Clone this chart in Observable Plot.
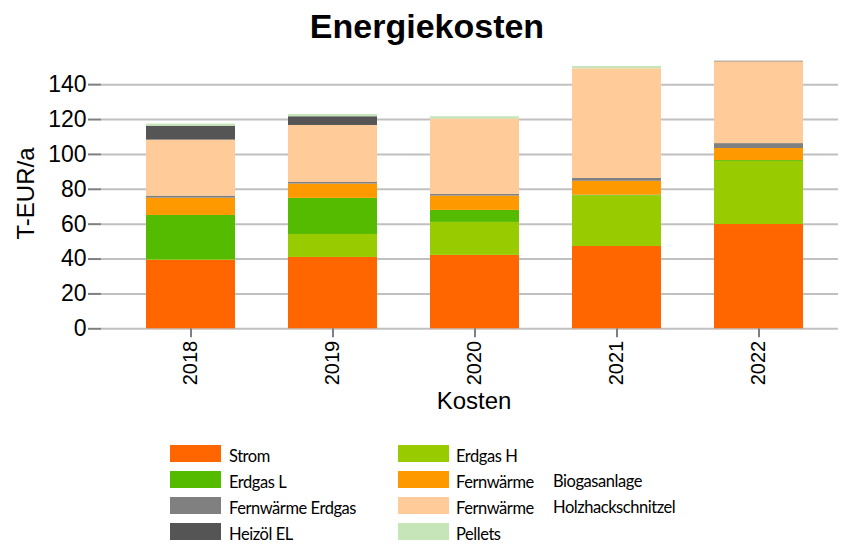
<!DOCTYPE html>
<html>
<head>
<meta charset="utf-8">
<script src="https://cdn.jsdelivr.net/npm/d3@7"></script>
<script src="https://cdn.jsdelivr.net/npm/@observablehq/plot@0.6"></script>
<style>
  html, body { margin: 0; padding: 0; background: #fff; }
  #wrap { position: relative; width: 842px; height: 545px; overflow: hidden; font-family: "Liberation Sans", Arial, sans-serif; }
  #title { position: absolute; left: 0; width: 854px; top: 7px; text-align: center; font-weight: bold; font-size: 34px; line-height: normal; color: #000; }
  #chart { position: absolute; left: 0; top: 50px; }
  .sw { position: absolute; width: 51px; height: 17px; }
  .lt { position: absolute; font-family: Lato, "Liberation Sans", Arial, sans-serif; font-size: 16.5px; letter-spacing: -0.45px; line-height: 20px; white-space: nowrap; color: #000; }
</style>
</head>
<body>
<div id="wrap">
  <div id="title">Energiekosten</div>
  <div id="chart"></div>
  <div id="legend"></div>
</div>
<script>
const years = ["2018", "2019", "2020", "2021", "2022"];
const seriesNames = ["Strom", "Erdgas H", "Erdgas L", "Fernwärme Biogasanlage", "Fernwärme Erdgas", "Fernwärme Holzhackschnitzel", "Heizöl EL", "Pellets"];
const seriesColors = ["#ff6600", "#99cc00", "#55bb00", "#ff9900", "#808080", "#ffcc99", "#555555", "#c6e5b8"];
const strom    = [39.2, 40.9, 42.1, 47.2, 59.8];
const erdgasH  = [0.4, 13.2, 18.9, 28.9, 36.2];
const erdgasL  = [25.4, 20.7, 6.9, 0.5, 0.5];
const fwBiogas = [9.9, 8.2, 8.2, 8.0, 6.9];
const fwErdgas = [1.2, 0.9, 1.0, 1.6, 2.8];
const fwHolz   = [32.1, 32.7, 43.2, 62.9, 46.9];
const heizoel  = [8.0, 5.0, 0, 0, 0.3];
const pellets  = [1.2, 1.3, 1.3, 1.3, 0];
const yTicks = [0, 20, 40, 60, 80, 100, 120, 140];

const seriesValues = [strom, erdgasH, erdgasL, fwBiogas, fwErdgas, fwHolz, heizoel, pellets];
const data = [];
years.forEach((yr, i) => {
  seriesNames.forEach((s, j) => data.push({year: yr, series: s, value: seriesValues[j][i]}));
});

const chart = Plot.plot({
  width: 842,
  height: 370,
  marginTop: 8,
  marginBottom: 91.7,
  marginLeft: 101,
  marginRight: 4,
  style: {fontFamily: "'Liberation Sans', Arial, sans-serif", background: "transparent", color: "#000"},
  x: {domain: years, paddingInner: 0.37, paddingOuter: 0.185, insetLeft: 18, insetRight: 7, label: null},
  y: {domain: [0, 155], label: null},
  color: {domain: seriesNames, range: seriesColors},
  marks: [
    Plot.ruleY(yTicks, {stroke: "#c0c0c0", strokeWidth: 2}),
    Plot.barY(data, {x: "year", y: "value", fill: "series"}),
    Plot.axisY({ticks: yTicks, tickSize: 13, tickPadding: 2, fontSize: 23, label: null, stroke: "#7f7f7f", strokeWidth: 2, fill: "#000"}),
    Plot.axisX({tickRotate: -90, tickSize: 9, tickPadding: 3, fontSize: 20, label: null, stroke: "#7f7f7f", strokeWidth: 2, fill: "#000"}),
    Plot.text(["T-EUR/a"], {frameAnchor: "left", y: [77.6], dx: -68, rotate: -90, lineAnchor: "bottom", textAnchor: "middle", fontSize: 24, fill: "#000"}),
    Plot.text(["Kosten"], {frameAnchor: "bottom", dx: 4, dy: 80, lineAnchor: "bottom", fontSize: 24, fill: "#000"})
  ]
});
document.getElementById("chart").appendChild(chart);

// Legend
const legend = document.getElementById("legend");
const legendItems = [
  {name: "Strom", label: "Strom", col: 0, row: 0},
  {name: "Erdgas L", label: "Erdgas L", col: 0, row: 1},
  {name: "Fernwärme Erdgas", label: "Fernwärme Erdgas", col: 0, row: 2},
  {name: "Heizöl EL", label: "Heizöl EL", col: 0, row: 3},
  {name: "Erdgas H", label: "Erdgas H", col: 1, row: 0},
  {name: "Fernwärme Biogasanlage", label: "Fernwärme", col: 1, row: 1},
  {name: "Fernwärme Holzhackschnitzel", label: "Fernwärme", col: 1, row: 2},
  {name: "Pellets", label: "Pellets", col: 1, row: 3}
];
const swX = [170, 398], txX = [229, 456];
legendItems.forEach(it => {
  const top = 445 + it.row * 26;
  const sw = document.createElement("div");
  sw.className = "sw";
  sw.style.left = swX[it.col] + "px";
  sw.style.top = top + "px";
  sw.style.background = seriesColors[seriesNames.indexOf(it.name)];
  legend.appendChild(sw);
  const t = document.createElement("div");
  t.className = "lt";
  t.style.left = txX[it.col] + "px";
  t.style.top = (top + 1) + "px";
  t.textContent = it.label;
  legend.appendChild(t);
});
[["Biogasanlage", 1], ["Holzhackschnitzel", 2]].forEach(([txt, row]) => {
  const t = document.createElement("div");
  t.className = "lt";
  t.style.left = "553px";
  t.style.top = (445 + row * 26) + "px";
  t.textContent = txt;
  legend.appendChild(t);
});
</script>
</body>
</html>
